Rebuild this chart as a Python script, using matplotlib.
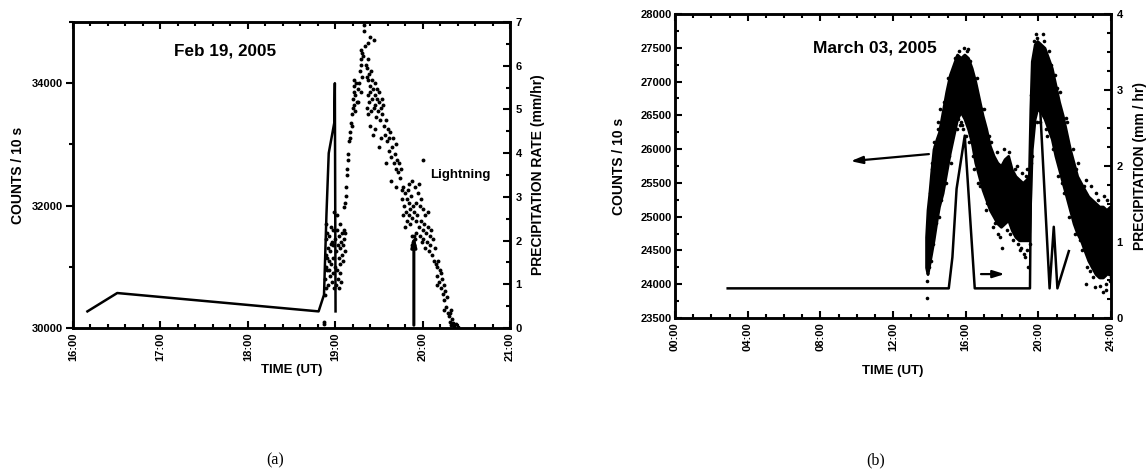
import matplotlib
matplotlib.use("Agg")
import matplotlib.pyplot as plt
from matplotlib.ticker import MultipleLocator, FuncFormatter

plt.rcParams['font.family'] = ['Liberation Sans', 'DejaVu Sans']
plt.rcParams['font.weight'] = 'bold'

# ---------------- Panel (a) data: Feb 19, 2005 ----------------
a_count_pts = [
    (18.87,30060),(18.87,30090),(18.88,30540),(18.88,30800),(18.89,31000),(18.89,31450),(18.90,31700),(18.90,31200),
    (18.91,30950),(18.91,31550),(18.92,31300),(18.92,30700),(18.93,31100),(18.93,31500),(18.94,30850),(18.94,31250),
    (18.95,31650),(18.95,31050),(18.96,30750),(18.96,31400),(18.97,31150),(18.97,30900),(18.98,31600),(18.98,31350),
    (18.99,30650),(18.99,31900),(18.89,30650),(18.91,31150),(18.93,30950),(18.95,31380),
    (19.00,31000),(19.00,31450),(19.01,30700),(19.01,31250),(19.02,31600),(19.02,30950),(19.03,31350),(19.03,30800),
    (19.04,31150),(19.04,31500),(19.05,30900),(19.05,31300),(19.06,31700),(19.06,31050),(19.07,31400),(19.07,30750),
    (19.08,31200),(19.08,31550),(19.09,31100),(19.09,31350),(19.10,31600),(19.10,31450),(19.11,31250),(19.11,31550),
    (19.02,31850),(19.04,30650),
    (19.10,31980),(19.11,32050),(19.12,32150),(19.12,32300),(19.13,32500),(19.14,32600),(19.15,32750),(19.15,32850),
    (19.16,33050),(19.17,33100),(19.17,33200),(19.18,33350),(19.19,33500),(19.19,33300),(19.20,33600),(19.20,33750),
    (19.21,33850),(19.21,33650),(19.22,33950),(19.22,34050),(19.23,33800),(19.24,34000),(19.25,33700),(19.23,33550),
    (19.26,33900),
    (19.28,34200),(19.29,34400),(19.30,34550),(19.31,34500),(19.30,34300),(19.32,34450),(19.33,34950),(19.33,34850),
    (19.34,34600),(19.35,34300),(19.36,34100),(19.36,34250),(19.37,34400),(19.38,34650),(19.40,34750),(19.44,34700),
    (19.38,34050),(19.39,34150),(19.40,33950),(19.41,34200),(19.42,34050),(19.27,34000),(19.29,33850),(19.31,34100),
    (19.26,33700),
    (19.36,33600),(19.37,33800),(19.38,33500),(19.39,33700),(19.40,33850),(19.41,33550),(19.42,33750),(19.43,33900),
    (19.44,33600),(19.45,33800),(19.45,34000),(19.46,33650),(19.47,33450),(19.48,33750),(19.48,33900),(19.49,33550),
    (19.50,33700),(19.50,33850),(19.51,33400),(19.52,33600),(19.53,33750),(19.54,33500),(19.55,33650),(19.46,33250),
    (19.43,33150),(19.50,32950),(19.52,33100),(19.40,33300),
    (19.56,33300),(19.57,33150),(19.58,33400),(19.59,33050),(19.60,33250),(19.61,32900),(19.62,33100),(19.63,33200),
    (19.64,32800),(19.65,32950),(19.66,33100),(19.67,32700),(19.68,32850),(19.69,33000),(19.70,32600),(19.71,32750),
    (19.72,32550),(19.73,32700),(19.74,32450),(19.75,32600),(19.58,32700),(19.64,32400),(19.70,32300),
    (19.76,32250),(19.77,32100),(19.78,32300),(19.79,32000),(19.80,32200),(19.81,31900),(19.82,32100),(19.83,32250),
    (19.84,31850),(19.85,32050),(19.86,31950),(19.87,32150),(19.88,31800),(19.89,32000),(19.90,31900),(19.91,32300),
    (19.92,31750),(19.93,32050),(19.94,31850),(19.95,32200),(19.96,32350),(19.97,32000),(19.98,32100),(20.00,32750),
    (19.78,31850),(19.82,31750),(19.86,31700),(19.80,31650),(19.84,32350),(19.88,32400),
    (19.88,31500),(19.89,31400),(19.90,31350),(19.91,31450),(19.89,31300),(19.92,31550),(19.90,31500),(19.88,31350),
    (19.96,31650),(19.97,31500),(19.98,31750),(19.99,31400),(20.00,31600),(20.01,31450),(20.02,31700),(20.03,31300),
    (20.04,31550),(20.05,31400),(20.06,31650),(20.07,31250),(20.08,31500),(20.09,31350),(20.10,31600),(20.11,31200),
    (20.12,31450),(20.13,31100),(20.14,31300),(20.15,31050),(20.00,31950),(20.03,31850),(20.06,31900),
    (20.16,31000),(20.17,30850),(20.18,31100),(20.19,30750),(20.20,30950),(20.21,30650),(20.22,30800),(20.23,30550),
    (20.24,30700),(20.25,30450),(20.26,30600),(20.27,30350),(20.28,30500),(20.29,30250),(20.17,30700),(20.21,30900),
    (20.25,30300),
    (20.30,30200),(20.31,30100),(20.32,30300),(20.33,30050),(20.34,30150),(20.35,30080),(20.36,30030),(20.38,30060),
    (20.40,30020),(20.31,30250),
]
a_time = [p[0] for p in a_count_pts]
a_counts = [p[1] for p in a_count_pts]

a_rain_time = [16.165, 16.506, 18.81, 18.872, 18.90, 18.926, 18.99, 18.996, 19.004]
a_rain_rate = [0.38, 0.80, 0.38, 0.76, 2.6, 4.0, 4.7, 5.6, 0.38]

a_lightning_time = 19.90
a_lightning_rate = 2.2

# ---------------- Panel (b) data: March 03, 2005 ----------------
b_env_time = [13.82, 13.90, 14.00, 14.10, 14.23, 14.40, 14.53, 14.73, 14.93, 15.13, 15.33, 15.53, 15.73, 15.93,
              16.13, 16.33, 16.53, 16.73, 16.93, 17.13, 17.33, 17.54, 17.74, 17.94, 18.14, 18.34, 18.54, 18.74,
              18.94, 19.14, 19.34, 19.48, 19.56, 19.64, 19.80, 19.94, 20.14, 20.34, 20.54, 20.74, 20.94, 21.14,
              21.34, 21.54, 21.74, 21.94, 22.14, 22.34, 22.54, 22.75, 22.95, 23.15, 23.35, 23.55, 23.75, 23.95]
b_env_low = [24250, 24150, 24300, 24450, 24650, 24950, 25150, 25350, 25650, 25950, 26200, 26450, 26550, 26450,
             26300, 26100, 25800, 25600, 25400, 25250, 25100, 25000, 24900, 24850, 24900, 24950, 24800, 24700,
             24650, 24650, 24650, 24650, 25300, 26000, 26450, 26600, 26550, 26450, 26300, 26150, 25900, 25700,
             25500, 25300, 25100, 24900, 24750, 24650, 24500, 24350, 24250, 24150, 24100, 24100, 24150, 24200]
b_env_high = [24700, 25100, 25350, 25650, 26000, 26150, 26250, 26550, 26850, 27100, 27250, 27400, 27350, 27400,
              27350, 27200, 27000, 26750, 26500, 26300, 26050, 25900, 25800, 25750, 25850, 25900, 25700, 25600,
              25550, 25500, 25550, 25600, 26600, 27300, 27550, 27600, 27550, 27500, 27350, 27200, 26950, 26700,
              26500, 26250, 26000, 25800, 25600, 25500, 25400, 25300, 25250, 25200, 25150, 25150, 25100, 25150]
b_scatter_pts = [
    (13.85,23800),(13.88,24050),(13.95,24420),(13.97,24250),(14.05,25350),(14.15,25700),(14.30,26050),(14.45,26300),
    (14.60,26600),(14.70,26350),(14.85,25950),(15.00,26850),(15.10,25900),(15.25,27050),(15.45,27250),(15.55,27380),
    (15.60,26450),(15.75,26400),(15.80,26350),(15.85,26300),(16.05,27450),(16.15,27480),(16.20,26100),(16.45,25700),
    (16.70,25500),(16.90,26600),(17.20,25200),(17.40,26100),(17.60,24900),(17.80,24750),(17.98,24540),(18.20,25850),
    (18.30,25800),(18.45,24750),(18.70,25700),(18.90,24600),(19.04,24540),(19.20,24450),(19.24,24400),(19.30,25600),
    (19.45,24250),(19.62,25800),(19.75,27600),(19.95,27650),(20.05,27500),(20.30,27600),(20.50,26200),(20.70,27250),
    (21.00,26900),(21.30,25500),(21.50,26460),(21.80,25100),(22.10,25700),(22.30,24650),(22.50,25450),(22.65,24000),
    (22.85,24200),(23.10,23960),(23.30,25250),(23.49,25050),(23.55,23890),(23.75,23920),(23.85,25050),(23.90,24150),
    (23.98,24100),
    (14.02,24900),(14.08,24350),(14.12,25800),(14.20,24600),(14.28,26100),(14.35,24900),(14.50,26400),(14.55,25000),
    (14.65,25250),(14.80,26700),(14.90,25500),(15.05,27050),(15.18,25800),(15.40,27350),(15.50,26300),(15.65,27450),
    (15.70,26350),(15.90,27500),(16.00,26200),(16.25,27300),(16.40,25900),(16.60,27050),(16.80,25450),(17.00,26600),
    (17.10,25100),(17.30,26200),(17.50,24850),(17.70,25950),(17.90,24700),(18.10,26000),(18.25,24800),(18.40,25950),
    (18.60,24650),(18.80,25750),(19.00,24500),(19.10,25650),(19.35,24500),(19.40,25700),(19.52,24600),(19.58,26800),
    (19.66,25900),(19.85,27700),(19.90,26400),(20.10,26400),(20.25,27700),(20.40,26300),(20.60,27450),(20.80,26000),
    (20.90,27100),(21.10,25600),(21.20,26850),(21.40,25350),(21.60,26400),(21.70,25000),(21.90,26000),(22.00,24750),
    (22.20,25800),(22.40,24500),(22.60,25550),(22.70,24250),(22.90,25450),(23.00,24100),(23.20,25350),(23.40,23980),
    (23.60,25300),(23.70,24000),(23.80,25250),(23.95,24050),
]
b_time = [p[0] for p in b_scatter_pts]
b_counts = [p[1] for p in b_scatter_pts]

b_rain_time = [2.9, 15.07, 15.27, 15.50, 15.95, 16.50, 19.54, 19.63, 19.75, 19.95, 20.08, 20.62, 20.85, 21.05, 21.68]
b_rain_rate = [0.39, 0.39, 0.80, 1.70, 2.40, 0.39, 0.39, 2.85, 3.05, 3.00, 2.85, 0.39, 1.20, 0.39, 0.88]

# ---------------- Figure ----------------
W, H = 1147, 472
fig = plt.figure(figsize=(W / 100, H / 100), dpi=100)
TICK_FS = 8
LABEL_FS = 10


def hhmm(x, pos):
    return "%02d:00" % int(round(x))


def style_axes(ax, axr, left_dir):
    for a in (ax, axr):
        for s in a.spines.values():
            s.set_linewidth(1.8)
    ax.tick_params(axis='x', which='both', direction='in', top=True, width=1.5,
                   labelsize=TICK_FS, labelrotation=90, pad=3)
    ax.tick_params(axis='y', which='both', direction=left_dir, left=True, right=False,
                   width=1.5, labelsize=TICK_FS, pad=2)
    ax.tick_params(axis='both', which='major', length=5)
    ax.tick_params(axis='both', which='minor', length=3)
    axr.tick_params(axis='y', which='both', direction='in', width=1.5, labelsize=TICK_FS, pad=4)
    axr.tick_params(axis='y', which='major', length=5)
    axr.tick_params(axis='y', which='minor', length=3)
    for lbl in ax.get_xticklabels() + ax.get_yticklabels() + axr.get_yticklabels():
        lbl.set_fontweight('bold')


def place_labels(ax, axr, ax_box, xl_y, yl_x, yr_x):
    left, top, width, height = ax_box
    ax.xaxis.set_label_coords(0.5, (top + height - xl_y) / height)
    ax.xaxis.label.set_verticalalignment('center')
    ax.yaxis.set_label_coords((yl_x - left) / width, 0.5)
    ax.yaxis.label.set_verticalalignment('center')
    axr.yaxis.set_label_coords((yr_x - left) / width, 0.5)
    axr.yaxis.label.set_verticalalignment('center')


# Panel (a): pixel box left, top, width, height
A_BOX = (73, 22, 437, 306)
axa = fig.add_axes([A_BOX[0] / W, 1 - (A_BOX[1] + A_BOX[3]) / H, A_BOX[2] / W, A_BOX[3] / H])
axa.plot(a_time, a_counts, 'o', color='black', ms=2.8, mec='none')
axa.set_xlim(16, 21)
axa.set_ylim(30000, 35000)
axa.xaxis.set_major_locator(MultipleLocator(1))
axa.xaxis.set_minor_locator(MultipleLocator(0.2))
axa.xaxis.set_major_formatter(FuncFormatter(hhmm))
axa.yaxis.set_major_locator(MultipleLocator(2000))
axa.yaxis.set_minor_locator(MultipleLocator(1000))
axa.set_xlabel('TIME (UT)', fontsize=9.5, fontweight='bold')
axa.set_ylabel('COUNTS / 10 s', fontsize=LABEL_FS, fontweight='bold')
axa.text(17.16, 34520, 'Feb 19, 2005', fontsize=12.3, fontweight='bold', va='center', ha='left')

axar = axa.twinx()
axar.plot(a_rain_time, a_rain_rate, '-', color='black', lw=1.8)
axar.set_ylim(0, 7)
axar.yaxis.set_major_locator(MultipleLocator(1))
axar.yaxis.set_minor_locator(MultipleLocator(0.5))
axar.set_ylabel('PRECIPITATION RATE (mm/hr)', fontsize=LABEL_FS, fontweight='bold')
axar.annotate('', xy=(a_lightning_time, a_lightning_rate), xytext=(a_lightning_time, 0),
              arrowprops=dict(arrowstyle='-|>,head_length=0.6,head_width=0.15', color='black', lw=2.2))
axar.text(20.09, 3.5, 'Lightning', fontsize=9.5, fontweight='bold', va='center', ha='left')
style_axes(axa, axar, 'out')
place_labels(axa, axar, A_BOX, 370, 18, 538)

# Panel (b)
B_BOX = (675, 14, 436, 304)
axb = fig.add_axes([B_BOX[0] / W, 1 - (B_BOX[1] + B_BOX[3]) / H, B_BOX[2] / W, B_BOX[3] / H])
axb.fill_between(b_env_time, b_env_low, b_env_high, color='black', lw=2.0, edgecolor='black')
axb.plot(b_time, b_counts, 'o', color='black', ms=2.6, mec='none')
axb.set_xlim(0, 24)
axb.set_ylim(23500, 28000)
axb.xaxis.set_major_locator(MultipleLocator(4))
axb.xaxis.set_minor_locator(MultipleLocator(1))
axb.xaxis.set_major_formatter(FuncFormatter(hhmm))
axb.yaxis.set_major_locator(MultipleLocator(500))
axb.yaxis.set_minor_locator(MultipleLocator(250))
axb.set_xlabel('TIME (UT)', fontsize=9.5, fontweight='bold')
axb.set_ylabel('COUNTS / 10 s', fontsize=LABEL_FS, fontweight='bold')
axb.text(7.57, 27500, 'March 03, 2005', fontsize=12.5, fontweight='bold', va='center', ha='left')
axb.annotate('', xy=(9.52, 25818), xytext=(14.13, 25930),
             arrowprops=dict(arrowstyle='-|>,head_length=0.7,head_width=0.22', color='black', lw=1.6))
axb.annotate('', xy=(18.30, 24150), xytext=(16.69, 24150),
             arrowprops=dict(arrowstyle='-|>,head_length=0.7,head_width=0.22', color='black', lw=1.6))

axbr = axb.twinx()
axbr.plot(b_rain_time, b_rain_rate, '-', color='black', lw=1.8)
axbr.set_ylim(0, 4)
axbr.yaxis.set_major_locator(MultipleLocator(1))
axbr.yaxis.set_minor_locator(MultipleLocator(0.25))
axbr.set_ylabel('PRECIPITATION (mm / hr)', fontsize=LABEL_FS, fontweight='bold')
style_axes(axb, axbr, 'in')
place_labels(axb, axbr, B_BOX, 371, 619, 1140)

fig.text(275 / W, 1 - 460 / H, '(a)', fontsize=11.5, family=['Liberation Serif', 'DejaVu Serif'],
         fontweight='normal', ha='center', va='center')
fig.text(876 / W, 1 - 460 / H, '(b)', fontsize=11.5, family=['Liberation Serif', 'DejaVu Serif'],
         fontweight='normal', ha='center', va='center')

fig.savefig('out.png', dpi=100)
